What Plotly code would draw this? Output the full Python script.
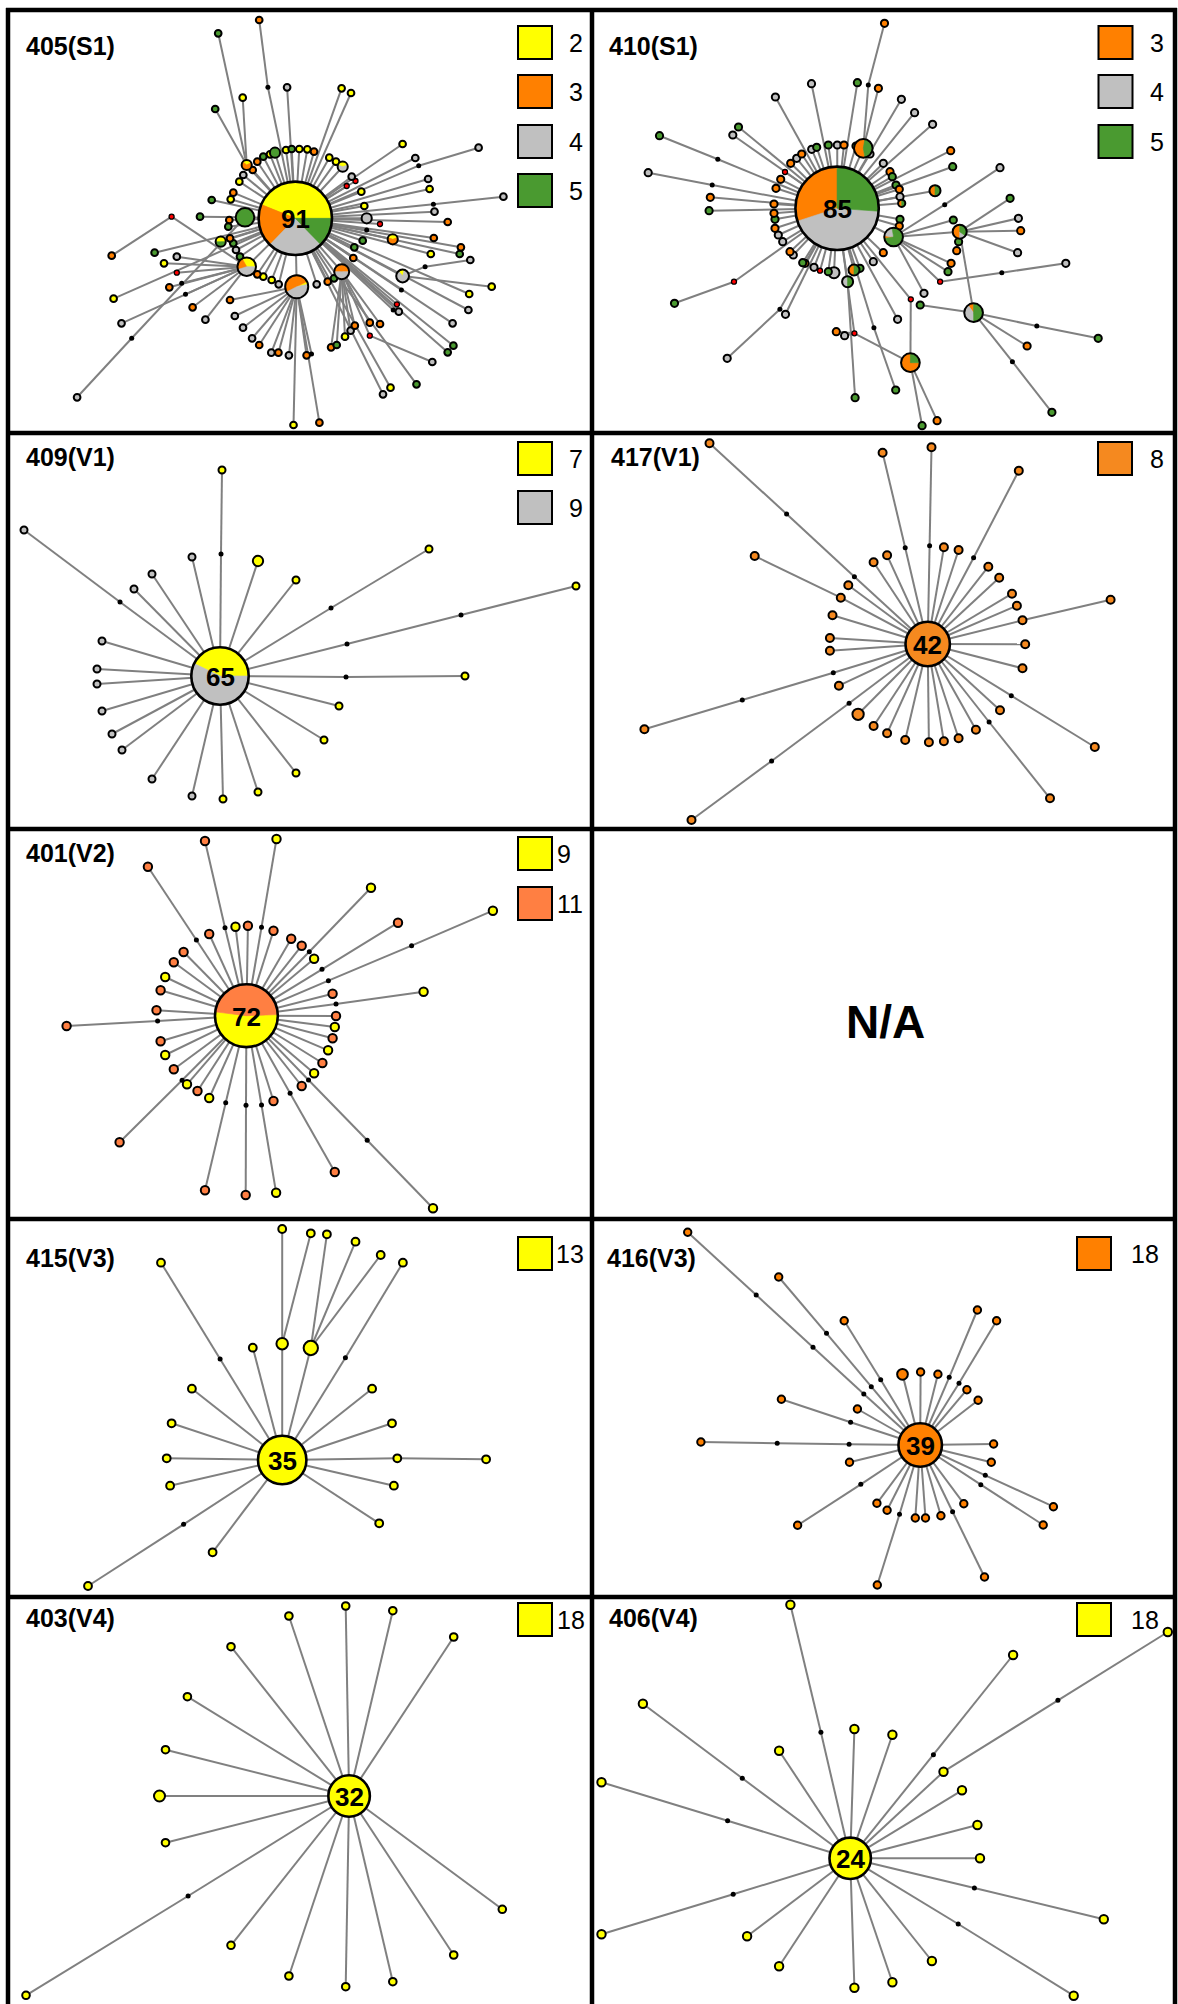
import math
import plotly.graph_objects as go

FIG_W, FIG_H = 1178, 2004

# ---------------------------------------------------------------------------
# Haplotype networks.  Each node: (layout x, layout y, haplotype count n,
# colour code, parent).  parent: None = root, 0 = central haplotype,
# -1 = previous node in the list, k = node index k.
# colour codes: y yellow, o orange, k grey, n green, d median vector, r red median
# pies: code -> (start angle, [(colour code, share in degrees), ...])
# ---------------------------------------------------------------------------

# ---------------- 405(S1) ----------------
A_title = "405(S1)"
A_legend_labels = ["2", "3", "4", "5"]
A_legend_codes = ["y", "o", "k", "n"]
A_nodes = [
    (295.3, 218.3, 91, "P0", None),
    (245.0, 217.3, 6, "n", 0),
    (246.7, 266.7, 6, "P1", 0),
    (296.7, 286.7, 9, "P2", 0),
    (341.7, 271.7, 4, "P3", 0),
    (402.6, 276.0, 3, "P4", 0),
    (246.7, 165.0, 2, "P5", 0),
    (171.6, 216.7, 0, "r", 2),
    (369.8, 335.7, 0, "r", 4),
    (211.7, 200.0, 1, "n", 0),
    (230.7, 199.3, 1, "y", 0),
    (233.3, 192.7, 1, "o", 0),
    (239.3, 181.7, 1, "y", 0),
    (243.3, 175.0, 1, "k", 0),
    (252.7, 170.0, 1, "o", 0),
    (257.3, 161.7, 1, "o", 0),
    (263.3, 156.7, 1, "n", 0),
    (270.0, 154.3, 1, "y", 0),
    (275.0, 152.7, 2, "n", 0),
    (286.0, 150.0, 1, "y", 0),
    (291.7, 149.0, 1, "n", 0),
    (299.3, 149.0, 1, "y", 0),
    (307.3, 149.3, 1, "y", 0),
    (314.0, 151.7, 1, "o", 0),
    (329.3, 157.7, 1, "y", 0),
    (336.0, 161.7, 1, "y", 0),
    (342.7, 166.7, 2, "P6", 0),
    (351.7, 176.7, 1, "k", 0),
    (346.7, 186.0, 0, "r", 0),
    (355.5, 181.0, 0, "r", 0),
    (361.3, 191.7, 1, "y", 0),
    (364.3, 206.0, 1, "y", 0),
    (366.7, 218.3, 2, "k", 0),
    (380.0, 224.0, 0, "r", 0),
    (366.7, 230.0, 0, "d", 0),
    (362.7, 240.7, 1, "n", 0),
    (354.3, 247.3, 1, "n", 0),
    (392.7, 239.3, 2, "P7", 0),
    (353.3, 258.0, 1, "o", 0),
    (334.0, 278.3, 1, "n", 0),
    (327.7, 281.7, 1, "o", 0),
    (316.7, 284.3, 1, "k", 0),
    (278.7, 284.3, 1, "k", 0),
    (271.7, 280.0, 1, "y", 0),
    (263.3, 276.7, 1, "y", 0),
    (257.3, 274.3, 1, "o", 0),
    (240.0, 256.7, 1, "n", 0),
    (236.0, 250.0, 1, "k", 0),
    (233.3, 243.3, 1, "n", 0),
    (230.0, 238.3, 1, "o", 0),
    (220.7, 241.7, 2, "P8", 0),
    (228.3, 226.7, 1, "n", 0),
    (229.3, 220.0, 1, "o", 0),
    (200.0, 216.7, 1, "n", 1),
    (267.9, 87.3, 0, "d", 0),
    (259.2, 20.0, 1, "o", -1),
    (218.2, 33.3, 1, "n", 6),
    (242.7, 97.7, 1, "y", 6),
    (215.2, 109.0, 1, "n", 6),
    (287.1, 87.3, 1, "k", 0),
    (341.6, 88.3, 1, "y", 0),
    (351.0, 93.0, 1, "y", 0),
    (402.6, 144.0, 1, "y", 0),
    (418.7, 165.7, 0, "d", 0),
    (478.6, 147.7, 1, "k", -1),
    (415.3, 158.0, 1, "k", 0),
    (428.1, 179.0, 1, "k", 0),
    (429.6, 189.0, 1, "y", 0),
    (433.4, 204.3, 0, "d", 0),
    (503.4, 196.7, 1, "k", -1),
    (434.5, 211.7, 1, "k", 0),
    (447.7, 222.0, 1, "o", 0),
    (433.8, 238.0, 1, "o", 0),
    (460.9, 247.3, 1, "o", 0),
    (459.7, 254.0, 1, "n", 0),
    (430.8, 254.0, 1, "y", 0),
    (425.1, 266.7, 0, "d", 5),
    (470.3, 260.0, 1, "k", -1),
    (491.7, 286.7, 1, "y", 5),
    (401.4, 290.0, 0, "d", 0),
    (469.2, 294.0, 1, "y", 0),
    (468.4, 310.0, 1, "k", 0),
    (396.9, 304.3, 0, "r", 0),
    (393.2, 310.0, 0, "d", 0),
    (398.8, 311.7, 1, "k", 0),
    (452.6, 323.3, 1, "k", 0),
    (453.4, 345.7, 1, "n", 0),
    (447.7, 352.3, 1, "n", 0),
    (432.3, 362.0, 1, "k", 8),
    (416.5, 384.3, 1, "n", 0),
    (390.5, 387.7, 1, "y", 0),
    (383.0, 394.3, 1, "k", 0),
    (319.4, 422.7, 1, "o", 3),
    (293.5, 425.0, 1, "y", 3),
    (369.8, 322.7, 1, "o", 4),
    (380.0, 324.0, 1, "o", 4),
    (345.0, 336.7, 1, "y", 4),
    (350.6, 330.7, 1, "k", 4),
    (354.8, 325.7, 1, "o", 4),
    (331.1, 347.3, 1, "o", 4),
    (336.7, 345.0, 1, "n", 4),
    (271.3, 352.7, 1, "k", 3),
    (278.4, 352.7, 1, "o", 3),
    (288.9, 355.3, 1, "k", 3),
    (306.6, 355.3, 1, "o", 3),
    (311.5, 354.0, 0, "d", 3),
    (230.0, 300.0, 1, "o", 3),
    (234.8, 316.0, 1, "k", 3),
    (243.0, 327.7, 1, "k", 3),
    (252.1, 338.3, 1, "k", 3),
    (259.2, 345.0, 1, "o", 3),
    (131.7, 338.3, 0, "d", 1),
    (77.1, 397.3, 1, "k", -1),
    (121.5, 323.3, 1, "k", 2),
    (113.6, 298.7, 1, "y", 0),
    (111.7, 255.7, 1, "o", 7),
    (154.6, 252.7, 1, "n", 0),
    (164.0, 263.3, 1, "y", 2),
    (176.8, 256.7, 1, "k", 2),
    (176.8, 272.7, 0, "r", 2),
    (181.7, 283.3, 0, "d", 2),
    (185.5, 294.3, 0, "d", 2),
    (169.3, 287.3, 1, "o", 2),
    (192.6, 307.3, 1, "o", 2),
    (205.4, 319.7, 1, "k", 2),
]
A_pies = {
    "P0": (0, [("y", 158), ("o", 68), ("k", 88), ("n", 46)]),
    "P1": (0, [("y", 119), ("o", 79), ("k", 162)]),
    "P2": (27, [("o", 181), ("k", 164), ("y", 15)]),
    "P3": (0, [("o", 180), ("k", 180)]),
    "P4": (75, [("y", 55), ("k", 305)]),
    "P5": (30, [("y", 110), ("o", 250)]),
    "P6": (20, [("y", 140), ("k", 220)]),
    "P7": (20, [("y", 140), ("o", 220)]),
    "P8": (0, [("y", 180), ("n", 180)]),
}

# ---------------- 410(S1) ----------------
B_title = "410(S1)"
B_legend_labels = ["3", "4", "5"]
B_legend_codes = ["o", "k", "n"]
B_nodes = [
    (249.1, 208.3, 85, "P0", None),
    (275.3, 148.3, 5, "P1", 0),
    (305.6, 237.0, 5, "P2", 0),
    (371.7, 231.7, 3, "P3", 2),
    (385.6, 312.7, 5, "P4", 3),
    (322.8, 299.3, 0, "r", 0),
    (322.4, 362.7, 5, "P5", 5),
    (266.4, 333.3, 0, "r", 0),
    (259.6, 281.7, 2, "P6", 0),
    (146.0, 281.7, 0, "r", 0),
    (352.1, 281.7, 0, "r", 2),
    (188.0, 188.3, 1, "o", 0),
    (192.7, 179.3, 1, "o", 0),
    (197.0, 172.0, 0, "r", 0),
    (202.7, 163.3, 1, "o", 0),
    (208.7, 158.3, 1, "k", 0),
    (213.7, 154.0, 1, "o", 0),
    (223.7, 149.3, 1, "k", 0),
    (228.7, 147.3, 1, "n", 0),
    (240.3, 145.0, 1, "n", 0),
    (249.3, 145.0, 1, "k", 0),
    (256.0, 145.0, 1, "o", 0),
    (268.0, 146.0, 1, "n", 0),
    (282.0, 154.0, 1, "k", 0),
    (295.3, 163.3, 1, "k", 0),
    (302.0, 171.7, 1, "o", 0),
    (304.3, 176.7, 1, "n", 0),
    (308.0, 185.0, 1, "n", 0),
    (311.3, 189.3, 1, "o", 0),
    (312.0, 196.7, 1, "k", 0),
    (313.7, 203.3, 1, "P7", 0),
    (312.0, 219.3, 1, "n", 0),
    (311.3, 226.0, 1, "o", 0),
    (295.3, 252.7, 1, "o", 0),
    (285.3, 261.7, 1, "k", 0),
    (272.0, 268.3, 1, "n", 0),
    (266.0, 270.0, 2, "P8", 0),
    (246.0, 272.7, 2, "k", 0),
    (240.3, 271.7, 1, "n", 0),
    (232.0, 270.7, 0, "r", 0),
    (226.0, 267.3, 1, "k", 0),
    (217.0, 263.3, 1, "o", 0),
    (214.7, 262.7, 1, "n", 0),
    (205.3, 255.0, 1, "k", 0),
    (202.0, 251.7, 1, "o", 0),
    (194.7, 241.7, 1, "k", 0),
    (190.3, 235.0, 1, "k", 0),
    (187.0, 228.3, 1, "o", 0),
    (187.0, 219.3, 1, "n", 0),
    (186.0, 213.3, 1, "o", 0),
    (186.0, 204.0, 1, "o", 0),
    (362.7, 150.7, 1, "o", 0),
    (364.7, 166.7, 1, "n", 0),
    (347.0, 190.7, 2, "P9", 0),
    (365.3, 220.0, 1, "n", 2),
    (370.6, 241.7, 1, "n", 3),
    (368.7, 250.7, 1, "o", 3),
    (363.1, 263.3, 1, "o", 2),
    (360.0, 271.7, 1, "n", 2),
    (280.3, 85.0, 0, "d", 1),
    (296.5, 23.3, 1, "o", -1),
    (223.5, 83.7, 1, "k", 0),
    (269.4, 82.7, 1, "n", 0),
    (290.4, 88.3, 1, "o", 1),
    (187.4, 97.0, 1, "k", 0),
    (313.4, 99.3, 1, "k", 0),
    (326.6, 112.7, 1, "k", 0),
    (344.6, 124.3, 1, "k", 0),
    (150.5, 127.0, 1, "n", 0),
    (144.8, 135.0, 1, "k", 0),
    (129.8, 159.3, 0, "d", 0),
    (71.5, 135.7, 1, "n", -1),
    (124.2, 185.0, 0, "d", 0),
    (60.2, 172.7, 1, "k", -1),
    (122.3, 197.3, 1, "o", 0),
    (121.1, 210.7, 1, "n", 0),
    (356.7, 204.7, 0, "d", 2),
    (412.0, 167.7, 1, "k", -1),
    (422.1, 198.3, 1, "n", 3),
    (430.4, 218.3, 1, "k", 3),
    (432.7, 230.7, 1, "o", 3),
    (429.6, 252.7, 1, "k", 3),
    (413.8, 272.7, 0, "d", 10),
    (477.8, 263.3, 1, "k", -1),
    (448.8, 326.0, 0, "d", 4),
    (510.2, 338.3, 1, "n", -1),
    (439.1, 346.0, 1, "o", 4),
    (424.4, 361.7, 0, "d", 4),
    (463.9, 412.3, 1, "n", -1),
    (336.0, 293.3, 1, "k", 2),
    (332.2, 305.0, 1, "n", 4),
    (334.1, 425.7, 1, "n", 6),
    (349.1, 420.7, 1, "o", 6),
    (248.3, 331.7, 1, "o", 7),
    (256.6, 335.7, 1, "k", 7),
    (267.1, 397.7, 1, "n", 8),
    (285.9, 327.7, 0, "d", 0),
    (307.7, 390.0, 1, "n", -1),
    (309.6, 319.3, 1, "k", 0),
    (191.9, 309.3, 0, "d", 0),
    (139.2, 358.3, 1, "k", -1),
    (197.5, 314.3, 1, "k", 0),
    (86.5, 303.3, 1, "n", 9),
]
B_extra_edges = [(7, 6)]
B_pies = {
    "P0": (-4, [("n", 94), ("o", 108), ("k", 158)]),
    "P1": (80, [("o", 200), ("n", 160)]),
    "P2": (100, [("k", 72), ("o", 18), ("n", 270)]),
    "P3": (90, [("o", 180), ("k", 54), ("n", 126)]),
    "P4": (90, [("o", 36), ("k", 144), ("n", 180)]),
    "P5": (0, [("n", 90), ("o", 270)]),
    "P6": (90, [("k", 180), ("n", 180)]),
    "P7": (90, [("o", 180), ("n", 180)]),
    "P8": (90, [("o", 180), ("n", 180)]),
    "P9": (90, [("o", 180), ("n", 180)]),
}

# ---------------- 409(V1) ----------------
C_title = "409(V1)"
C_legend_labels = ["7", "9"]
C_legend_codes = ["y", "k"]
C_nodes = [
    (220.0, 246.0, 65, "P0", None),
    (221.0, 124.0, 0, "d", 0), (222.0, 40.0, 1, "y", -1),
    (120.0, 172.0, 0, "d", 0), (24.0, 100.0, 1, "k", -1),
    (192.0, 127.0, 1, "k", 0),
    (152.0, 144.0, 1, "k", 0),
    (134.0, 159.0, 1, "k", 0),
    (258.0, 131.0, 2, "y", 0),
    (296.0, 150.0, 1, "y", 0),
    (331.0, 178.0, 0, "d", 0), (429.0, 119.0, 1, "y", -1),
    (347.0, 214.0, 0, "d", 0), (461.0, 185.0, 0, "d", -1), (576.0, 156.0, 1, "y", -1),
    (102.0, 211.0, 1, "k", 0),
    (97.0, 239.0, 1, "k", 0),
    (97.0, 254.0, 1, "k", 0),
    (346.0, 247.0, 0, "d", 0), (465.0, 246.0, 1, "y", -1),
    (102.0, 281.0, 1, "k", 0),
    (339.0, 276.0, 1, "y", 0),
    (112.0, 304.0, 1, "k", 0),
    (122.0, 320.0, 1, "k", 0),
    (324.0, 310.0, 1, "y", 0),
    (296.0, 343.0, 1, "y", 0),
    (152.0, 349.0, 1, "k", 0),
    (258.0, 362.0, 1, "y", 0),
    (192.0, 366.0, 1, "k", 0),
    (223.0, 369.0, 1, "y", 0),
]
C_pies = {"P0": (0, [("y", 154), ("k", 206)])}

# ---------------- 417(V1) ----------------
D_title = "417(V1)"
D_legend_labels = ["8"]
D_legend_codes = ["o"]
D_nodes = [
    (339.7, 214.0, 42, "o", None),
    (266.4, 146.7, 0, "d", 0), (198.6, 84.0, 0, "d", -1), (121.5, 13.3, 1, "o", -1),
    (317.2, 117.7, 0, "d", 0), (294.6, 22.7, 1, "o", -1),
    (341.6, 115.7, 0, "d", 0), (343.5, 17.3, 1, "o", -1),
    (385.6, 127.7, 0, "d", 0), (430.8, 40.7, 1, "o", -1),
    (355.9, 117.3, 1, "o", 0),
    (370.6, 120.0, 1, "o", 0),
    (299.1, 125.3, 1, "o", 0),
    (285.6, 132.3, 1, "o", 0),
    (400.3, 136.7, 1, "o", 0),
    (411.2, 147.7, 1, "o", 0),
    (260.3, 155.3, 1, "o", 0),
    (252.8, 167.7, 1, "o", 0), (166.7, 126.0, 1, "o", -1),
    (424.0, 163.7, 1, "o", 0),
    (428.9, 175.7, 1, "o", 0),
    (244.5, 185.3, 1, "o", 0),
    (434.5, 190.3, 1, "o", 0), (522.6, 169.7, 1, "o", -1),
    (241.9, 208.0, 1, "o", 0),
    (241.9, 220.7, 1, "o", 0),
    (437.2, 214.3, 1, "o", 0),
    (434.5, 238.3, 1, "o", 0),
    (245.3, 242.7, 0, "d", 0), (154.3, 270.0, 0, "d", -1), (56.4, 299.3, 1, "o", -1),
    (250.9, 255.7, 1, "o", 0),
    (261.1, 273.3, 0, "d", 0), (183.6, 331.0, 0, "d", -1), (103.5, 390.0, 1, "o", -1),
    (270.1, 284.3, 2, "o", 0),
    (412.0, 280.3, 1, "o", 0),
    (423.3, 265.7, 0, "d", 0), (506.8, 317.0, 1, "o", -1),
    (285.6, 296.0, 1, "o", 0),
    (299.1, 303.3, 1, "o", 0),
    (317.2, 310.0, 1, "o", 0),
    (340.9, 312.3, 1, "o", 0),
    (355.9, 311.3, 1, "o", 0),
    (370.6, 308.3, 1, "o", 0),
    (387.9, 299.7, 1, "o", 0),
    (401.1, 292.0, 0, "d", 0), (462.0, 368.3, 1, "o", -1),
]

# ---------------- 401(V2) ----------------
E_title = "401(V2)"
E_legend_labels = ["9", "11"]
E_legend_codes = ["y", "o"]
E_nodes = [
    (246.4, 190.7, 72, "P0", None),
    (225.0, 102.7, 0, "d", 0), (205.0, 16.0, 1, "o", -1),
    (261.5, 102.3, 0, "d", 0), (276.5, 14.0, 1, "y", -1),
    (196.4, 115.0, 0, "d", 0), (147.9, 41.7, 1, "o", -1),
    (309.3, 126.7, 0, "d", 0), (371.0, 62.7, 1, "y", -1),
    (322.0, 144.3, 0, "d", 0), (398.0, 97.7, 1, "o", -1),
    (328.4, 155.7, 0, "d", 0), (411.6, 120.7, 0, "d", -1), (492.9, 85.7, 1, "y", -1),
    (235.5, 101.7, 1, "y", 0),
    (247.9, 100.7, 1, "o", 0),
    (273.5, 105.7, 1, "o", 0),
    (209.2, 109.0, 1, "o", 0),
    (291.2, 113.7, 1, "o", 0),
    (301.7, 120.7, 1, "o", 0),
    (314.1, 133.7, 1, "y", 0),
    (183.6, 127.0, 1, "o", 0),
    (173.8, 137.3, 1, "o", 0),
    (165.2, 152.0, 1, "y", 0),
    (160.6, 165.3, 1, "o", 0),
    (332.6, 168.7, 1, "o", 0),
    (336.0, 179.0, 0, "d", 0), (423.6, 166.7, 1, "y", -1),
    (156.5, 185.3, 1, "o", 0),
    (157.6, 196.0, 0, "d", 0), (66.6, 201.0, 1, "o", -1),
    (336.0, 191.0, 1, "o", 0),
    (334.8, 202.0, 1, "y", 0),
    (332.6, 213.3, 1, "o", 0),
    (160.6, 216.3, 1, "o", 0),
    (328.1, 225.3, 1, "y", 0),
    (165.2, 230.0, 1, "y", 0),
    (322.4, 238.0, 1, "o", 0),
    (173.8, 244.3, 1, "o", 0),
    (314.1, 248.3, 1, "y", 0),
    (187.0, 259.3, 1, "y", 0),
    (182.1, 255.3, 0, "d", 0), (119.6, 317.3, 1, "o", -1),
    (301.7, 261.0, 1, "o", 0),
    (197.5, 266.0, 1, "o", 0),
    (209.2, 273.0, 1, "y", 0),
    (273.5, 276.0, 1, "o", 0),
    (225.7, 277.7, 0, "d", 0), (205.0, 365.3, 1, "o", -1),
    (246.0, 280.3, 0, "d", 0), (245.7, 370.0, 1, "o", -1),
    (261.5, 280.0, 0, "d", 0), (276.1, 367.7, 1, "y", -1),
    (290.1, 268.3, 0, "d", 0), (334.8, 347.0, 1, "o", -1),
    (308.5, 255.0, 0, "d", 0), (367.2, 315.3, 0, "d", -1), (433.0, 383.3, 1, "y", -1),
]
E_pies = {"P0": (2, [("o", 171), ("y", 189)])}

# ---------------- 415(V3) ----------------
G_title = "415(V3)"
G_legend_labels = ["13"]
G_legend_codes = ["y"]
G_nodes = [
    (282.2, 245.0, 35, "y", None),
    (282.2, 128.7, 2, "y", 0),
    (310.8, 133.0, 3, "y", 0),
    (282.2, 14.0, 1, "y", 1),
    (310.8, 18.3, 1, "y", 1),
    (326.9, 19.3, 1, "y", 2),
    (355.5, 26.7, 1, "y", 2),
    (380.7, 40.0, 1, "y", 2),
    (220.1, 144.0, 0, "d", 0), (161.0, 47.7, 1, "y", -1),
    (345.4, 142.7, 0, "d", 0), (402.9, 47.7, 1, "y", -1),
    (252.8, 132.7, 1, "y", 0),
    (191.9, 173.7, 1, "y", 0),
    (372.1, 173.7, 1, "y", 0),
    (171.6, 208.3, 1, "y", 0),
    (392.0, 208.3, 1, "y", 0),
    (166.7, 243.3, 1, "y", 0),
    (397.3, 243.3, 1, "y", 0), (486.1, 244.3, 1, "y", -1),
    (170.1, 270.7, 1, "y", 0),
    (393.9, 270.7, 1, "y", 0),
    (379.2, 308.3, 1, "y", 0),
    (212.6, 337.3, 1, "y", 0),
    (183.6, 309.3, 0, "d", 0), (88.0, 371.0, 1, "y", -1),
]

# ---------------- 416(V3) ----------------
H_title = "416(V3)"
H_legend_labels = ["18"]
H_legend_codes = ["o"]
H_nodes = [
    (332.2, 230.0, 39, "o", None),
    (275.8, 179.0, 0, "d", 0), (225.0, 132.3, 0, "d", -1), (168.2, 80.0, 0, "d", -1), (99.7, 17.3, 1, "o", -1),
    (283.3, 171.7, 0, "d", 0), (238.5, 118.3, 0, "d", -1), (190.7, 62.0, 1, "o", -1),
    (292.7, 164.7, 0, "d", 0), (256.2, 105.7, 1, "o", -1),
    (361.2, 162.3, 0, "d", 0), (389.4, 95.0, 1, "o", -1),
    (371.0, 168.3, 0, "d", 0), (408.6, 105.7, 1, "o", -1),
    (314.5, 159.3, 2, "o", 0),
    (332.6, 157.0, 1, "o", 0),
    (349.9, 159.3, 1, "o", 0),
    (378.9, 174.7, 1, "o", 0),
    (390.1, 185.3, 1, "o", 0),
    (262.6, 207.3, 0, "d", 0), (193.4, 184.3, 1, "o", -1),
    (269.4, 194.0, 1, "o", 0),
    (261.1, 229.3, 0, "d", 0), (189.2, 228.3, 0, "d", -1), (112.9, 227.0, 1, "o", -1),
    (405.6, 229.0, 1, "o", 0),
    (261.5, 247.3, 1, "o", 0),
    (403.3, 247.3, 1, "o", 0),
    (397.3, 260.3, 0, "d", 0), (465.4, 291.7, 1, "o", -1),
    (392.8, 269.7, 0, "d", 0), (455.2, 310.0, 1, "o", -1),
    (272.8, 269.3, 0, "d", 0), (209.6, 310.3, 1, "o", -1),
    (288.9, 288.3, 1, "o", 0),
    (299.1, 295.3, 1, "o", 0),
    (327.3, 303.0, 1, "o", 0),
    (337.5, 303.0, 1, "o", 0),
    (352.9, 300.7, 1, "o", 0),
    (375.8, 288.7, 1, "o", 0),
    (311.5, 299.3, 0, "d", 0), (289.3, 370.0, 1, "o", -1),
    (364.6, 296.7, 0, "d", 0), (396.5, 362.0, 1, "o", -1),
]

# ---------------- 403(V4) ----------------
I_title = "403(V4)"
I_legend_labels = ["18"]
I_legend_codes = ["y"]
I_nodes = [
    (349.1, 196.0, 32, "y", None),
    (345.7, 6.0, 1, "y", 0),
    (288.9, 16.0, 1, "y", 0),
    (392.8, 10.7, 1, "y", 0),
    (231.0, 46.7, 1, "y", 0),
    (453.7, 37.0, 1, "y", 0),
    (187.4, 96.7, 1, "y", 0),
    (165.5, 149.7, 1, "y", 0),
    (159.5, 196.0, 2, "y", 0),
    (165.5, 242.7, 1, "y", 0),
    (188.1, 296.0, 0, "d", 0), (26.0, 395.3, 1, "y", -1),
    (231.0, 345.3, 1, "y", 0),
    (288.9, 376.0, 1, "y", 0),
    (345.7, 386.7, 1, "y", 0),
    (392.8, 381.7, 1, "y", 0),
    (453.7, 355.0, 1, "y", 0),
    (502.3, 309.3, 1, "y", 0),
]

# ---------------- 406(V4) ----------------
J_title = "406(V4)"
J_legend_labels = ["18"]
J_legend_codes = ["y"]
J_nodes = [
    (262.2, 258.3, 24, "y", None),
    (232.9, 132.3, 0, "d", 0), (202.4, 4.7, 1, "y", -1),
    (154.3, 178.3, 0, "d", 0), (54.9, 103.7, 1, "y", -1),
    (266.4, 129.0, 1, "y", 0),
    (304.4, 134.7, 1, "y", 0),
    (191.1, 150.7, 1, "y", 0),
    (139.6, 220.7, 0, "d", 0), (13.5, 182.3, 1, "y", -1),
    (345.4, 154.7, 0, "d", 0), (425.1, 55.0, 1, "y", -1),
    (355.5, 171.7, 1, "y", 0), (469.9, 100.3, 0, "d", -1), (579.8, 32.0, 1, "y", -1),
    (374.0, 190.3, 1, "y", 0),
    (389.4, 225.0, 1, "y", 0),
    (392.0, 258.3, 1, "y", 0),
    (386.4, 288.0, 0, "d", 0), (515.8, 319.3, 1, "y", -1),
    (145.2, 294.3, 0, "d", 0), (13.5, 334.3, 1, "y", -1),
    (159.1, 336.3, 1, "y", 0),
    (191.1, 366.3, 1, "y", 0),
    (266.4, 387.7, 1, "y", 0),
    (304.4, 382.3, 1, "y", 0),
    (343.9, 361.0, 1, "y", 0),
    (370.2, 324.0, 0, "d", 0), (485.7, 395.7, 1, "y", -1),
]

NA_TEXT = "N/A"

# ---------------------------------------------------------------------------
# styles / layout
# ---------------------------------------------------------------------------
YEL = "#ffff00"
GRY = "#c0c0c0"
S1_COL = {"y": YEL, "o": "#ff8000", "k": GRY, "n": "#4a9a30"}
FONT = "Liberation Sans, Arial, Helvetica, sans-serif"

PANELS = [
    dict(nodes=A_nodes, pies=A_pies, extra=[], title=A_title, labels=A_legend_labels, codes=A_legend_codes,
         ox=0, oy=0, r1=4.36, p=0.48, pal=S1_COL, txy=(24, 46), lx=518, ltops=[26, 75, 125, 174], llx=567),
    dict(nodes=B_nodes, pies=B_pies, extra=B_extra_edges, title=B_title, labels=B_legend_labels, codes=B_legend_codes,
         ox=588, oy=0, r1=4.6, p=0.503, pal=S1_COL, txy=(19, 46), lx=510.5, ltops=[26, 75, 125], llx=560),
    dict(nodes=C_nodes, pies=C_pies, extra=[], title=C_title, labels=C_legend_labels, codes=C_legend_codes,
         ox=0, oy=430, r1=4.5, p=0.4545, pal={"y": YEL, "k": GRY}, txy=(24, 27), lx=518, ltops=[12, 61], llx=567),
    dict(nodes=D_nodes, pies={}, extra=[], title=D_title, labels=D_legend_labels, codes=D_legend_codes,
         ox=588, oy=430, r1=5.0, p=0.414, pal={"o": "#f5891f"}, txy=(21, 27), lx=510, ltops=[12], llx=560),
    dict(nodes=E_nodes, pies=E_pies, extra=[], title=E_title, labels=E_legend_labels, codes=E_legend_codes,
         ox=0, oy=825, r1=5.2, p=0.43, pal={"y": YEL, "o": "#ff7f42"}, txy=(24, 28), lx=518, ltops=[12, 62], llx=555),
    dict(nodes=G_nodes, pies={}, extra=[], title=G_title, labels=G_legend_labels, codes=G_legend_codes,
         ox=0, oy=1215, r1=4.9, p=0.464, pal={"y": YEL}, txy=(24, 43), lx=518, ltops=[22], llx=554),
    dict(nodes=H_nodes, pies={}, extra=[], title=H_title, labels=H_legend_labels, codes=H_legend_codes,
         ox=588, oy=1215, r1=4.7, p=0.434, pal={"o": "#ff8000"}, txy=(17, 43), lx=489, ltops=[22], llx=541),
    dict(nodes=I_nodes, pies={}, extra=[], title=I_title, labels=I_legend_labels, codes=I_legend_codes,
         ox=0, oy=1600, r1=4.8, p=0.44, pal={"y": YEL}, txy=(24, 18), lx=518, ltops=[3], llx=555),
    dict(nodes=J_nodes, pies={}, extra=[], title=J_title, labels=J_legend_labels, codes=J_legend_codes,
         ox=588, oy=1600, r1=5.2, p=0.454, pal={"y": YEL}, txy=(19, 18), lx=489, ltops=[3], llx=541),
]

LW_NODE = 2.0
LW_ROOT = 2.6


def wedge(cx, cy, r, a0, a1):
    xs, ys = [cx], [cy]
    steps = max(2, int(abs(a1 - a0) / 3) + 1)
    for k in range(steps + 1):
        a = math.radians(a0 + (a1 - a0) * k / steps)
        xs.append(cx + r * math.cos(a))
        ys.append(cy - r * math.sin(a))
    xs.append(cx)
    ys.append(cy)
    return xs, ys


edge_x, edge_y = [], []
nd_x, nd_y, nd_s, nd_c, nd_lw = [], [], [], [], []
dot_x, dot_y = [], []
red_x, red_y = [], []
pie_fill = {}
po_x, po_y, po_s, po_lw = [], [], [], []
annotations = []
shapes = []

for P in PANELS:
    nodes = P["nodes"]
    ox, oy = P["ox"], P["oy"]
    X = [ox + nd[0] for nd in nodes]
    Y = [oy + nd[1] for nd in nodes]
    par = []
    for i, nd in enumerate(nodes):
        q = nd[4]
        par.append(None if q is None else (i - 1 if q == -1 else q))
    for i, j in enumerate(par):
        if j is not None:
            edge_x += [X[j], X[i], None]
            edge_y += [Y[j], Y[i], None]
    for i, j in P["extra"]:
        edge_x += [X[j], X[i], None]
        edge_y += [Y[j], Y[i], None]
    for i, nd in enumerate(nodes):
        n, code = nd[2], nd[3]
        if code == "d":
            dot_x.append(X[i]); dot_y.append(Y[i])
            continue
        if code == "r":
            red_x.append(X[i]); red_y.append(Y[i])
            continue
        r = P["r1"] * n ** P["p"]
        lw = LW_ROOT if par[i] is None else LW_NODE
        if code.startswith("P"):
            start, spans = P["pies"][code]
            a = start
            for cc, span in spans:
                col = P["pal"][cc]
                wx, wy = wedge(X[i], Y[i], r - lw / 2, a, a + span)
                fx, fy = pie_fill.setdefault(col, ([], []))
                fx += wx + [None]
                fy += wy + [None]
                a += span
            po_x.append(X[i]); po_y.append(Y[i]); po_s.append(2 * r - lw); po_lw.append(lw)
        else:
            nd_x.append(X[i]); nd_y.append(Y[i]); nd_s.append(2 * r - lw)
            nd_c.append(P["pal"][code]); nd_lw.append(lw)
        if par[i] is None:
            annotations.append(dict(x=X[i], y=Y[i] + 1, xref="x", yref="y", text="<b>%d</b>" % n,
                                    showarrow=False, font=dict(family=FONT, size=26, color="black"),
                                    xanchor="center", yanchor="middle"))
    # panel title
    tx, ty = P["txy"]
    annotations.append(dict(x=ox + tx, y=oy + ty, xref="x", yref="y", text="<b>%s</b>" % P["title"],
                            showarrow=False, font=dict(family=FONT, size=25, color="black"),
                            xanchor="left", yanchor="middle"))
    # legend boxes
    for lab, cc, top in zip(P["labels"], P["codes"], P["ltops"]):
        shapes.append(dict(type="rect", xref="x", yref="y", x0=ox + P["lx"], x1=ox + P["lx"] + 34,
                           y0=oy + top, y1=oy + top + 33, fillcolor=P["pal"][cc],
                           line=dict(color="black", width=2)))
        annotations.append(dict(x=ox + P["llx"], y=oy + top + 16.5, xref="x", yref="y", text=lab,
                                showarrow=False, font=dict(family=FONT, size=25, color="black"),
                                xanchor="left", yanchor="middle"))

annotations.append(dict(x=885, y=1022, xref="x", yref="y", text="<b>%s</b>" % NA_TEXT, showarrow=False,
                        font=dict(family=FONT, size=46, color="black"), xanchor="center", yanchor="middle"))

# panel frames
FL = dict(color="black", width=4.5)
for yy in [10, 433, 829, 1219, 1597]:
    shapes.append(dict(type="line", xref="x", yref="y", x0=6, x1=1177, y0=yy, y1=yy, line=FL))
for xx in [8, 592, 1175]:
    shapes.append(dict(type="line", xref="x", yref="y", x0=xx, x1=xx, y0=8, y1=2010, line=FL))

fig = go.Figure()
fig.add_trace(go.Scatter(x=edge_x, y=edge_y, mode="lines", line=dict(color="#808080", width=2.0),
                         hoverinfo="skip", showlegend=False))
fig.add_trace(go.Scatter(x=dot_x, y=dot_y, mode="markers", marker=dict(size=5, color="black", opacity=1),
                         hoverinfo="skip", showlegend=False))
fig.add_trace(go.Scatter(x=red_x, y=red_y, mode="markers",
                         marker=dict(size=5, color="#ff0000", opacity=1, line=dict(color="black", width=1.3)),
                         hoverinfo="skip", showlegend=False))
fig.add_trace(go.Scatter(x=nd_x, y=nd_y, mode="markers",
                         marker=dict(size=nd_s, color=nd_c, opacity=1, line=dict(color="black", width=nd_lw)),
                         hoverinfo="skip", showlegend=False))
for col, (fx, fy) in pie_fill.items():
    fig.add_trace(go.Scatter(x=fx, y=fy, mode="lines", fill="toself", fillcolor=col, opacity=1,
                             line=dict(color=col, width=0.6), hoverinfo="skip", showlegend=False))
fig.add_trace(go.Scatter(x=po_x, y=po_y, mode="markers",
                         marker=dict(size=po_s, color="rgba(0,0,0,0)", opacity=1,
                                     line=dict(color="black", width=po_lw)),
                         hoverinfo="skip", showlegend=False))

fig.update_layout(
    width=FIG_W, height=FIG_H, margin=dict(l=0, r=0, t=0, b=0),
    paper_bgcolor="white", plot_bgcolor="white", showlegend=False,
    xaxis=dict(range=[0, FIG_W], visible=False, fixedrange=True),
    yaxis=dict(range=[FIG_H, 0], visible=False, fixedrange=True),
    annotations=annotations, shapes=shapes,
)

fig.write_html("out.html", config={"displayModeBar": False},
               post_script="document.body.style.margin='0px';document.body.style.overflow='hidden';")
